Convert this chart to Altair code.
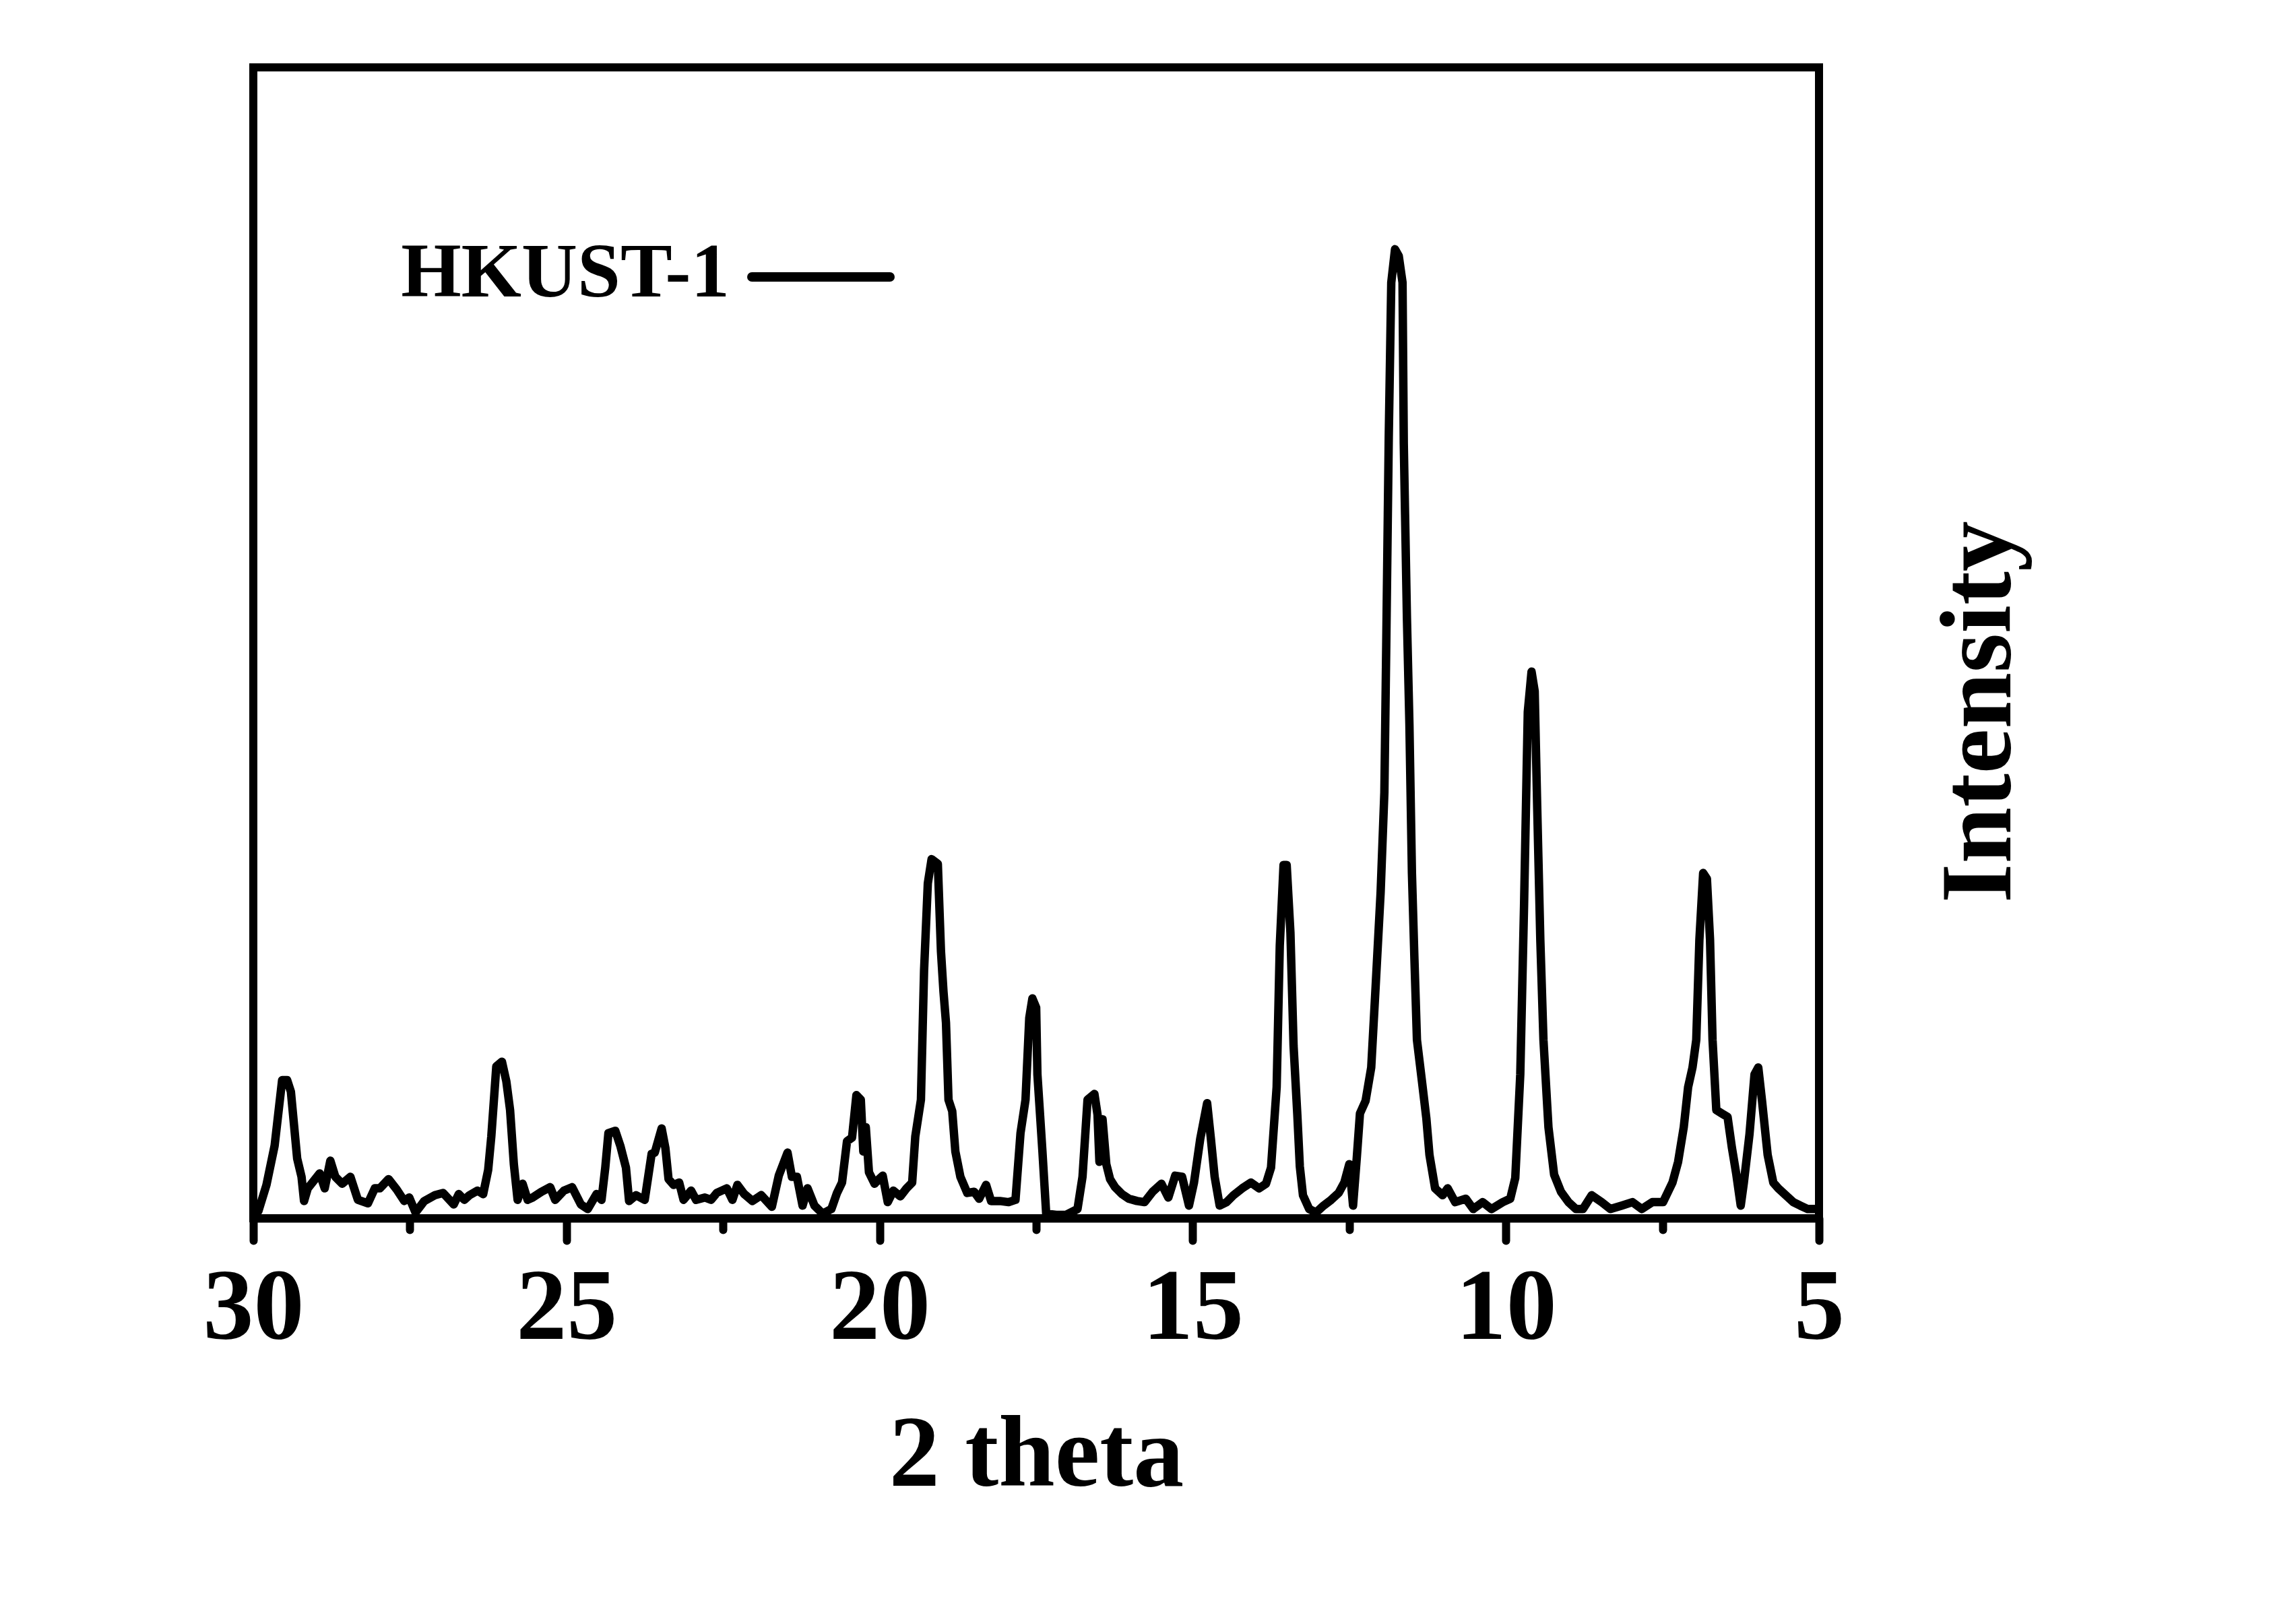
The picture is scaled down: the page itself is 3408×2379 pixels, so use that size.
import altair as alt
import pandas as pd

two_theta = [
    29.98, 29.92, 29.79, 29.66, 29.54, 29.46, 29.40, 29.35, 29.30, 29.23, 29.19, 29.13,
    28.94, 28.86, 28.77, 28.69, 28.58, 28.45, 28.33, 28.17, 28.06, 27.98, 27.84, 27.71,
    27.59, 27.51, 27.41, 27.27, 27.10, 26.97, 26.80, 26.72, 26.63, 26.55, 26.42, 26.33,
    26.25, 26.20, 26.12, 26.03, 25.96, 25.90, 25.84, 25.78, 25.70, 25.62, 25.54, 25.40,
    25.26, 25.18, 25.04, 24.91, 24.77, 24.66, 24.52, 24.44, 24.38, 24.33, 24.22, 24.14,
    24.05, 24.00, 23.89, 23.75, 23.64, 23.59, 23.48, 23.42, 23.37, 23.29, 23.20, 23.13,
    23.01, 22.93, 22.79, 22.69, 22.60, 22.44, 22.35, 22.27, 22.16, 22.03, 21.89, 21.72,
    21.61, 21.47, 21.40, 21.32, 21.23, 21.15, 21.04, 20.91, 20.77, 20.68, 20.60, 20.52,
    20.44, 20.37, 20.30, 20.26, 20.22, 20.17, 20.08, 20.03, 19.95, 19.87, 19.78, 19.67,
    19.57, 19.48, 19.43, 19.34, 19.29, 19.23, 19.17, 19.07, 19.02, 18.98, 18.94, 18.90,
    18.84, 18.79, 18.71, 18.60, 18.49, 18.41, 18.30, 18.22, 18.08, 17.94, 17.83, 17.75,
    17.67, 17.61, 17.56, 17.50, 17.48, 17.45, 17.40, 17.34, 17.18, 17.02, 16.84, 16.76,
    16.68, 16.57, 16.52, 16.49, 16.44, 16.38, 16.32, 16.24, 16.13, 16.02, 15.89, 15.77,
    15.64, 15.50, 15.39, 15.28, 15.17, 15.06, 14.98, 14.88, 14.77, 14.71, 14.65, 14.57,
    14.46, 14.35, 14.21, 14.07, 13.94, 13.83, 13.75, 13.66, 13.61, 13.55, 13.50, 13.44,
    13.39, 13.33, 13.29, 13.24, 13.14, 13.03, 12.91, 12.79, 12.67, 12.58, 12.50, 12.44,
    12.38, 12.33, 12.24, 12.15, 12.08, 12.00, 11.94, 11.91, 11.87, 11.83, 11.77, 11.71,
    11.65, 11.63, 11.58, 11.54, 11.50, 11.46, 11.42, 11.34, 11.27, 11.22, 11.13, 11.01,
    10.93, 10.81, 10.64, 10.52, 10.37, 10.23, 10.05, 9.93, 9.85, 9.77, 9.71, 9.65,
    9.59, 9.54, 9.50, 9.45, 9.40, 9.32, 9.23, 9.12, 9.00, 8.88, 8.77, 8.63,
    8.47, 8.33, 8.15, 7.98, 7.83, 7.66, 7.49, 7.34, 7.25, 7.16, 7.09, 7.02,
    6.96, 6.91, 6.85, 6.79, 6.74, 6.70, 6.64, 6.55, 6.46, 6.39, 6.32, 6.25,
    6.20, 6.11, 6.03, 5.97, 5.91, 5.82, 5.73, 5.65, 5.53, 5.41, 5.30, 5.18,
    5.07, 5.00,
]
intensity = [
    5, 6, 29, 63, 120, 120, 110, 81, 52, 36, 15, 26,
    39, 26, 50, 36, 30, 36, 16, 13, 26, 26, 34, 25,
    15, 18, 5, 15, 20, 22, 12, 21, 16, 20, 24, 21,
    42, 71, 132, 136, 119, 94, 47, 16, 30, 16, 18, 23,
    27, 16, 24, 27, 12, 8, 21, 16, 44, 74, 76, 63,
    44, 15, 20, 16, 56, 57, 78, 61, 34, 29, 31, 16,
    24, 16, 18, 16, 22, 26, 16, 29, 21, 15, 20, 10,
    37, 57, 36, 36, 11, 26, 11, 4, 8, 22, 31, 67,
    70, 107, 103, 58, 79, 40, 30, 33, 37, 14, 24, 19,
    26, 31, 71, 103, 215, 291, 312, 308, 232, 197, 170, 103,
    93, 58, 36, 22, 23, 17, 29, 15, 15, 14, 16, 74,
    103, 174, 191, 183, 125, 100, 58, 4, 3, 3, 8, 36,
    103, 108, 90, 49, 86, 47, 34, 27, 21, 17, 15, 14,
    23, 30, 18, 37, 36, 11, 31, 69, 100, 69, 36, 11,
    14, 20, 26, 31, 26, 30, 44, 114, 237, 307, 307, 248,
    150, 90, 45, 20, 8, 5, 11, 16, 22, 31, 47, 11,
    53, 91, 102, 131, 201, 283, 370, 498, 679, 813, 842, 836,
    813, 673, 522, 429, 300, 225, 155, 119, 87, 55, 26, 20,
    26, 14, 17, 8, 14, 8, 14, 17, 35, 125, 271, 440,
    475, 458, 358, 242, 155, 79, 38, 23, 14, 8, 8, 20,
    14, 8, 11, 14, 8, 14, 14, 31, 49, 79, 114, 131,
    155, 242, 300, 295, 242, 155, 94, 91, 88, 61, 38, 11,
    31, 73, 125, 131, 102, 55, 31, 26, 20, 14, 11, 8,
    8, 8,
]
series = ["HKUST-1"]
x_tick_values = [5, 7.5, 10, 12.5, 15, 17.5, 20, 22.5, 25, 27.5, 30]

df = pd.DataFrame({"two_theta": two_theta, "intensity": intensity})
legend_df = pd.DataFrame({"series": series})

W, H = 2324, 1708
FONT = "Liberation Serif"

x_axis = alt.Axis(
    values=x_tick_values,
    format="d",
    labelExpr="datum.value % 5 === 0 ? datum.label : ''",
    tickSize={"condition": {"test": "datum.value % 5 === 0", "value": 33}, "value": 17},
    tickWidth=12,
    tickCap="round",
    tickColor="black",
    domainColor="black",
    domainWidth=12,
    labelFont=FONT,
    labelFontSize=150,
    labelFontWeight="bold",
    labelColor="black",
    labelPadding=26,
    labelFlush=False,
    labelOverlap=False,
    grid=False,
    title="2 theta",
    titleFont=FONT,
    titleFontSize=150,
    titleFontWeight="bold",
    titleColor="black",
    titleX=W / 2,
    titleY=396,
    titleBaseline="alphabetic",
    titleAlign="center",
)

y_axis = alt.Axis(
    orient="right",
    ticks=False,
    labels=False,
    domain=False,
    grid=False,
    title="Intensity",
    titleFont=FONT,
    titleFontSize=150,
    titleFontWeight="bold",
    titleColor="black",
    titleAngle=270,
    titleX=283,
    titleY=956,
    titleAlign="center",
    titleBaseline="alphabetic",
)

line = alt.Chart(df).mark_line(
    color="black", strokeWidth=12.5, strokeJoin="round", clip=True
).encode(
    x=alt.X("two_theta:Q", scale=alt.Scale(domain=[5, 30], reverse=True, nice=False, zero=False), axis=x_axis),
    y=alt.Y("intensity:Q", scale=alt.Scale(domain=[0, 1000], nice=False), axis=y_axis),
)

legend_text = alt.Chart(legend_df).mark_text(
    align="right", baseline="alphabetic", font=FONT, fontSize=115, fontWeight="bold", color="black"
).encode(
    x=alt.value(707),
    y=alt.value(340),
    text="series:N",
)

legend_line = alt.Chart(legend_df).mark_rule(
    color="black", strokeWidth=14, strokeCap="round"
).encode(
    x=alt.value(740),
    x2=alt.value(945),
    y=alt.value(311),
)

chart = alt.layer(line, legend_text, legend_line).properties(
    width=W,
    height=H,
    padding={"left": 368, "top": 92, "right": 600, "bottom": 450},
    autosize=alt.AutoSizeParams(type="none"),
    background="white",
).configure_view(
    stroke="black", strokeWidth=12
)

chart.save("out.html", embed_options={"renderer": "svg", "actions": False})
